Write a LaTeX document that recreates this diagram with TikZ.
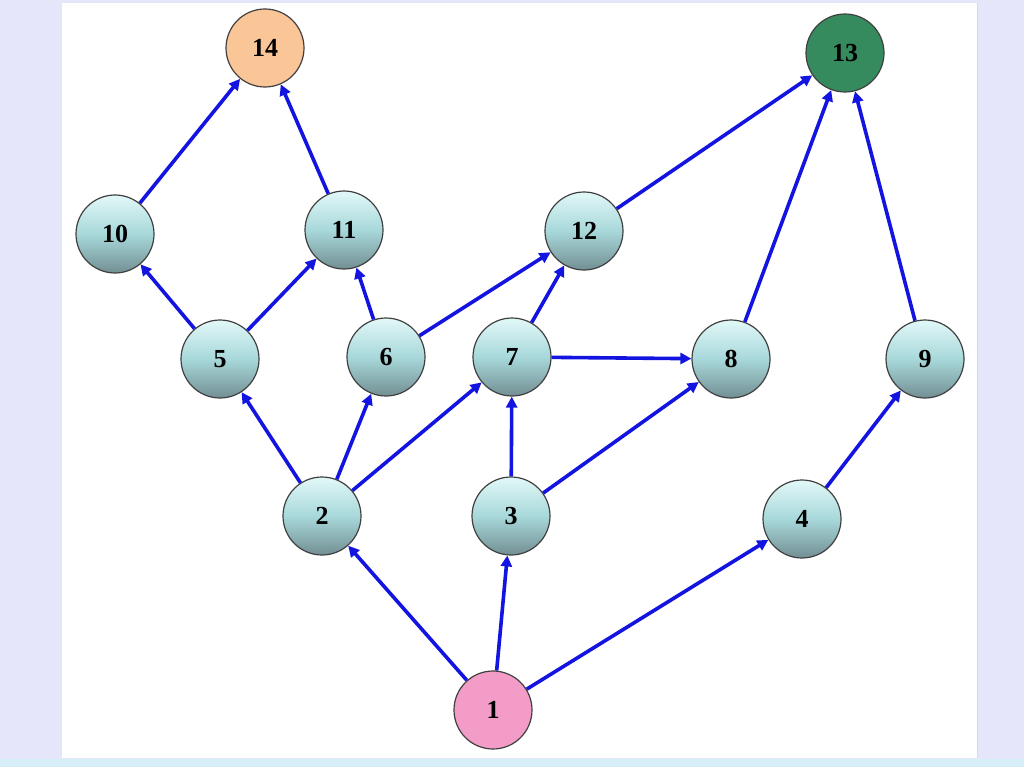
\documentclass[tikz,border=0pt]{standalone}
\usepackage{fontspec}
\setmainfont{Liberation Serif}
\usetikzlibrary{arrows.meta}
\definecolor{bgl}{HTML}{E6E6FA}
\definecolor{bgb}{HTML}{D6EEF8}
\definecolor{edgeblue}{HTML}{1414E0}
\definecolor{ntop}{HTML}{E2F8F8}
\definecolor{nmid}{HTML}{A8D8DA}
\definecolor{nbot}{HTML}{728F93}
\definecolor{peach}{HTML}{FAC597}
\definecolor{dgreen}{HTML}{358A5E}
\definecolor{pink}{HTML}{F49CC8}
\tikzset{
  vtx/.style={circle, minimum size=78pt, inner sep=0pt, draw=black!75, line width=1.2pt,
    top color=ntop, bottom color=nbot, middle color=nmid,
    font=\fontsize{26}{26}\selectfont\bfseries},
  vflat/.style={circle, minimum size=78pt, inner sep=0pt, draw=black!75, line width=1.2pt,
    fill=#1, font=\fontsize{26}{26}\selectfont\bfseries},
  arr/.style={draw=edgeblue, line width=3.6pt, -{Triangle[length=11pt,width=11pt]}}
}
\begin{document}
\begin{tikzpicture}[x=1pt,y=-1pt]
\useasboundingbox (0,0) rectangle (1024,767);
\fill[bgl] (0,0) rectangle (1024,767);
\fill[bgb] (0,759) rectangle (1024,767);
\fill[white] (62,3) rectangle (977,758);
\draw[black!15, line width=0.8pt] (977,3) -- (977,758);
\node[vflat=peach] (n14) at (265,48) {14};
\node[vflat=dgreen] (n13) at (845,53) {13};
\node[vtx] (n10) at (115,234) {10};
\node[vtx] (n11) at (344,230) {11};
\node[vtx] (n12) at (584,231) {12};
\node[vtx] (n5) at (220,359) {5};
\node[vtx] (n6) at (386,357) {6};
\node[vtx] (n7) at (512,357) {7};
\node[vtx] (n8) at (731,359) {8};
\node[vtx] (n9) at (925,359) {9};
\node[vtx] (n2) at (322,516) {2};
\node[vtx] (n3) at (511,516) {3};
\node[vtx] (n4) at (802,519) {4};
\node[vflat=pink] (n1) at (493,710) {1};
\draw[arr] (n1) -- (n2);
\draw[arr] (n1) -- (n3);
\draw[arr] (n1) -- (n4);
\draw[arr] (n2) -- (n5);
\draw[arr] (n2) -- (n6);
\draw[arr] (n2) -- (n7);
\draw[arr] (n3) -- (n7);
\draw[arr] (n3) -- (n8);
\draw[arr] (n4) -- (n9);
\draw[arr] (n5) -- (n10);
\draw[arr] (n5) -- (n11);
\draw[arr] (n6) -- (n11);
\draw[arr] (n6) -- (n12);
\draw[arr] (n7) -- (n12);
\draw[arr] (n7) -- (n8);
\draw[arr] (n8) -- (n13);
\draw[arr] (n9) -- (n13);
\draw[arr] (n12) -- (n13);
\draw[arr] (n10) -- (n14);
\draw[arr] (n11) -- (n14);
\end{tikzpicture}
\end{document}
